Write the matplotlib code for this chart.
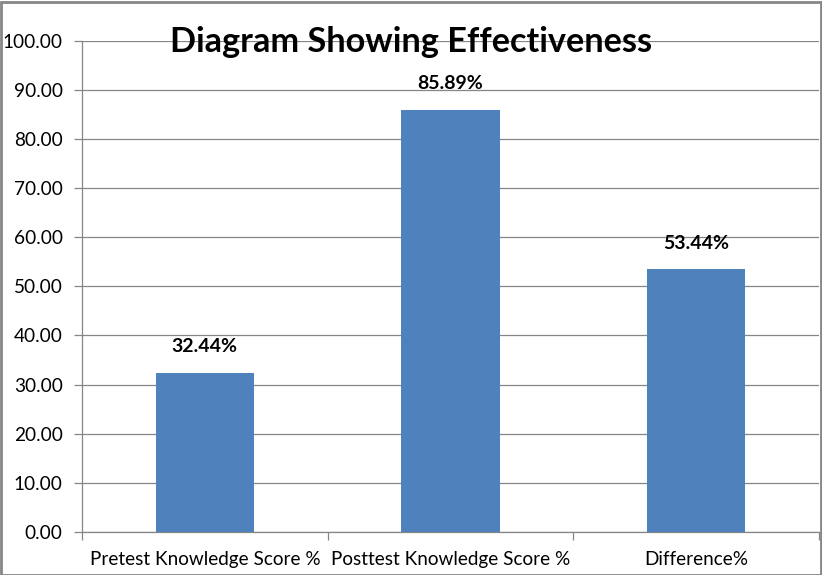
import matplotlib
matplotlib.use("Agg")
import matplotlib.pyplot as plt
from matplotlib.patches import Rectangle

categories = ["Pretest Knowledge Score %", "Posttest Knowledge Score %", "Difference%"]
values = [32.44, 85.89, 53.44]
value_labels = ["32.44%", "85.89%", "53.44%"]
title = "Diagram Showing Effectiveness"

plt.rcParams['font.family'] = ['Lato', 'DejaVu Sans']

W, H = 822, 575
fig = plt.figure(figsize=(W / 100, H / 100), dpi=100)
ax = fig.add_axes([82 / W, 1 - 532 / H, (819 - 82) / W, (532 - 40.5) / H])

grid_c = "#868686"
x = list(range(len(categories)))
ax.bar(x, values, width=0.4, color="#4F81BD", zorder=3)
ax.set_xlim(-0.5, len(categories) - 0.5)
ax.set_ylim(0, 100)
ax.set_yticks(range(0, 101, 10))
ax.set_yticklabels([f"{v:.2f}" for v in range(0, 101, 10)], fontsize=13.7)
ax.yaxis.grid(True, color=grid_c, linewidth=0.9, zorder=0)
ax.tick_params(axis='y', direction='out', length=5.5, width=0.9, color=grid_c, pad=8.5, labelcolor="black")

ax.set_xticks([i - 0.5 for i in range(len(categories) + 1)])
ax.set_xticklabels([])
ax.set_xticks(x, minor=True)
ax.set_xticklabels(categories, minor=True, fontsize=13.6)
ax.tick_params(axis='x', which='minor', length=0, pad=14)
ax.tick_params(axis='x', which='major', direction='out', length=5.5, width=0.9, color=grid_c)

for s in ["top", "right"]:
    ax.spines[s].set_visible(False)
for s in ["left", "bottom"]:
    ax.spines[s].set_color(grid_c)
    ax.spines[s].set_linewidth(0.9)

for xi, v, lab in zip(x, values, value_labels):
    ax.annotate(lab, (xi, v), xytext=(0, 12.5), textcoords="offset points",
                ha="center", va="bottom", fontsize=14, fontweight="bold", zorder=4)

fig.text(411 / W, 1 - 42 / H, title, ha="center", va="center", fontsize=24.7, fontweight="bold")

fig.patches.append(Rectangle((0.5 / W, 0.5 / H), (W - 2) / W, (H - 2) / H, transform=fig.transFigure,
                             fill=False, edgecolor="#868686", linewidth=2, zorder=10))

fig.savefig("out.png", dpi=100)
